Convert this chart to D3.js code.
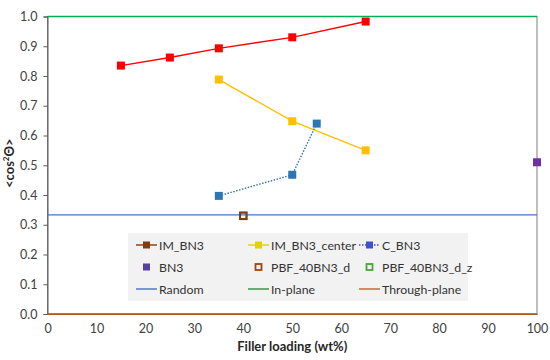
<!DOCTYPE html>
<html>
<head>
<meta charset="utf-8">
<script src="https://cdn.jsdelivr.net/npm/d3@7"></script>
<style>
  body { margin: 0; background: #fff; }
  text { font-family: Lato, "Open Sans", sans-serif; }
</style>
</head>
<body>
<div id="chart"></div>
<script>
// data
var imX = [15, 25, 35, 50, 65];
var imY = [0.835, 0.862, 0.893, 0.930, 0.983];
var centerX = [35, 50, 65];
var centerY = [0.788, 0.648, 0.550];
var cX = [35, 50, 55];
var cY = [0.397, 0.468, 0.640];
var bn3 = [[100, 0.51]];
var pbfD = [[40, 0.33]];
var pbfDz = [[40, 0.33]];
var randomY = 1 / 3, inPlaneY = 1.0, throughY = 0.0;
var xTicks = [0, 10, 20, 30, 40, 50, 60, 70, 80, 90, 100];
var yTicks = [0, 0.1, 0.2, 0.3, 0.4, 0.5, 0.6, 0.7, 0.8, 0.9, 1.0];

var W = 550, H = 360;
var margin = {top: 16.5, right: 13, bottom: 46, left: 47.5};
var width = W - margin.left - margin.right,
    height = H - margin.top - margin.bottom;

var svg = d3.select("#chart").append("svg")
    .attr("width", W).attr("height", H);
var g = svg.append("g")
    .attr("transform", "translate(" + margin.left + "," + margin.top + ")");

var x = d3.scaleLinear().domain([0, 100]).range([0, width]);
var y = d3.scaleLinear().domain([0, 1]).range([height, 0]);

// plot frame
g.append("rect").attr("width", width).attr("height", height)
  .attr("fill", "none").attr("stroke", "#7f7f7f").attr("stroke-width", 1);

// axes
var xAxis = g.append("g").attr("transform", "translate(0," + height + ")")
  .call(d3.axisBottom(x).tickValues(xTicks).tickSize(0).tickPadding(10));
var yAxis = g.append("g")
  .call(d3.axisLeft(y).tickValues(yTicks).tickSize(4).tickFormat(d3.format(".1f")).tickPadding(6));
[xAxis, yAxis].forEach(function(a) {
  a.select(".domain").attr("stroke", "#595959");
  a.selectAll(".tick line").attr("stroke", "#595959");
  a.selectAll("text").attr("font-size", 12.5).attr("fill", "#404040");
});

// reference lines
function hline(v, col) {
  g.append("line").attr("x1", 0).attr("x2", width)
    .attr("y1", y(v)).attr("y2", y(v))
    .attr("stroke", col).attr("stroke-width", 1.3);
}
hline(randomY, "#4472C4");
hline(inPlaneY, "#00B050");
hline(throughY, "#C55A11");

var line = d3.line().x(function(d) { return x(d[0]); }).y(function(d) { return y(d[1]); });
function zip(a, b) { return a.map(function(v, i) { return [v, b[i]]; }); }

function series(pts, col, dash) {
  g.append("path").datum(pts).attr("d", line)
    .attr("fill", "none").attr("stroke", col).attr("stroke-width", 1.4)
    .attr("stroke-dasharray", dash || null);
  squares(pts, col, false);
}
function squares(pts, col, hollow) {
  var s = hollow ? 6.5 : 8;
  g.append("g").selectAll("rect").data(pts).enter().append("rect")
    .attr("x", function(d) { return x(d[0]) - s / 2; })
    .attr("y", function(d) { return y(d[1]) - s / 2; })
    .attr("width", s).attr("height", s)
    .attr("fill", hollow ? "none" : col)
    .attr("stroke", col).attr("stroke-width", hollow ? 2 : 0);
}

series(zip(imX, imY), "#FF0000");
series(zip(centerX, centerY), "#FFC000");
series(zip(cX, cY), "#2E75B6", "1.5,1.5");
squares(bn3, "#7030A0", false);
squares(pbfDz, "#70AD47", true);
squares(pbfD, "#843C0C", true);

// legend
var legendItems = [
  {name: "IM_BN3", col: "#843C0C", type: "line"},
  {name: "IM_BN3_center", col: "#E2D400", type: "line"},
  {name: "C_BN3", col: "#4050D0", type: "dot"},
  {name: "BN3", col: "#5B3FA0", type: "mark"},
  {name: "PBF_40BN3_d", col: "#A0430F", type: "hollow"},
  {name: "PBF_40BN3_d_z", col: "#4CA040", type: "hollow"},
  {name: "Random", col: "#4472C4", type: "plain"},
  {name: "In-plane", col: "#2F8F3F", type: "plain"},
  {name: "Through-plane", col: "#C0602A", type: "plain"}
];
var lg = svg.append("g").attr("transform", "translate(128,233)");
lg.append("rect").attr("width", 340).attr("height", 68).attr("fill", "#F2F2F2");
var colX = [8, 120, 231];
legendItems.forEach(function(d, i) {
  var it = lg.append("g").attr("transform",
    "translate(" + colX[i % 3] + "," + (12 + Math.floor(i / 3) * 22) + ")");
  if (d.type !== "mark" && d.type !== "hollow") {
    it.append("line").attr("x1", 0).attr("x2", 21).attr("y1", 0).attr("y2", 0)
      .attr("stroke", d.col).attr("stroke-width", 1.4)
      .attr("stroke-dasharray", d.type === "dot" ? "1.5,1.5" : null);
  }
  if (d.type === "line" || d.type === "dot" || d.type === "mark") {
    it.append("rect").attr("x", 7).attr("y", -3.5).attr("width", 7).attr("height", 7)
      .attr("fill", d.col);
  }
  if (d.type === "hollow") {
    it.append("rect").attr("x", 7.5).attr("y", -3).attr("width", 6).attr("height", 6)
      .attr("fill", "none").attr("stroke", d.col).attr("stroke-width", 1.8);
  }
  it.append("text").attr("x", 23).attr("y", 4.5).attr("font-size", 12.3)
    .attr("fill", "#333").text(d.name);
});

// axis titles
svg.append("text").attr("x", margin.left + width / 2).attr("y", 351)
  .attr("text-anchor", "middle").attr("font-size", 13).attr("font-weight", "bold")
  .attr("fill", "#262626").text("Filler loading (wt%)");
var yt = svg.append("text")
  .attr("transform", "translate(14," + (margin.top + height / 2 - 2) + ") rotate(-90)")
  .attr("text-anchor", "middle").attr("font-size", 13).attr("font-weight", "bold")
  .attr("fill", "#262626");
yt.append("tspan").text("<cos");
yt.append("tspan").attr("baseline-shift", "super").attr("font-size", 8).text("2");
yt.append("tspan").text("\u0398>");
</script>
</body>
</html>
